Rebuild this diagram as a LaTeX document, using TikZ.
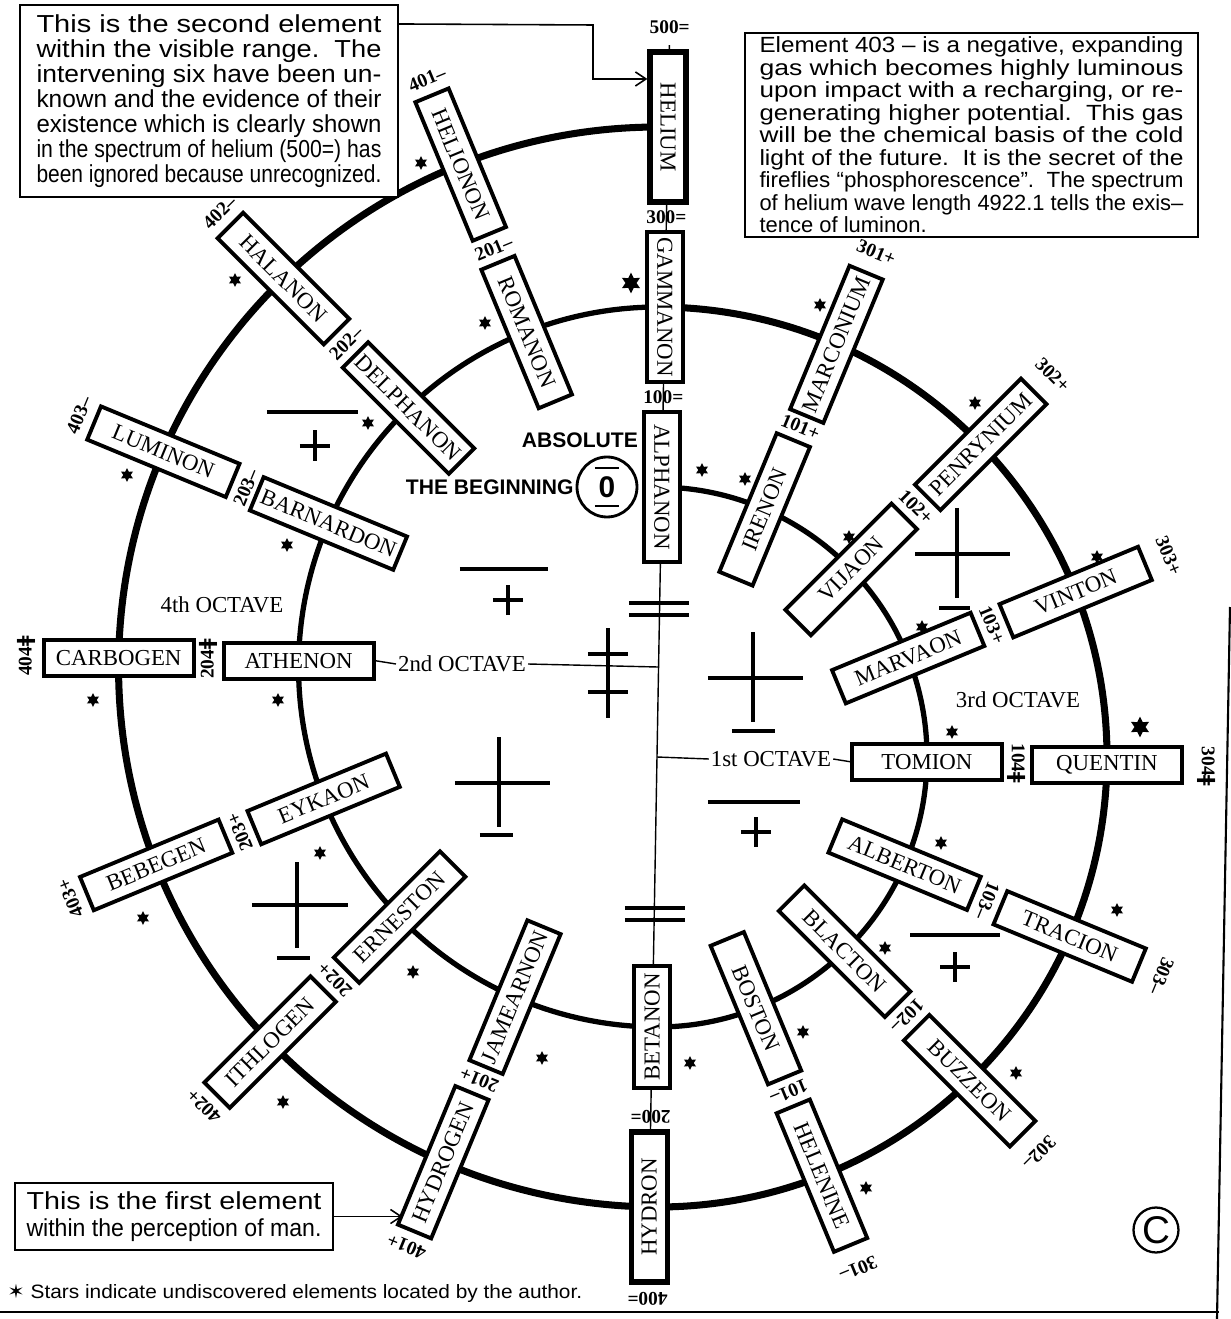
\documentclass[tikz,border=0pt]{standalone}
\usepackage{fontspec}
\setmainfont{Liberation Serif}
\setsansfont{Liberation Sans}
\newfontfamily\dagfont{DejaVu Sans}
\usepackage{graphicx}
\usepackage{tikz}
\usetikzlibrary{arrows.meta,positioning,shapes.geometric,calc}

\newcommand{\elemfont}{\fontsize{13}{13}\selectfont\rmfamily}
\newcommand{\numfont}{\fontsize{11}{11}\selectfont\rmfamily\bfseries}
\newcommand{\notefont}{\fontsize{14}{14.2}\selectfont\sffamily}
\newcommand{\dblbar}{{\dagfont ǂ}}
\newcommand{\fitline}[2]{\resizebox{#1}{\height}{#2}}

\begin{document}
\begin{tikzpicture}[
  x=0.02cm, y=0.02cm,
  >=Stealth,
  elembox/.style={
    draw,
    fill=white,
    line width=2.2pt,
    minimum width=3cm,
    minimum height=0.72cm,
    inner xsep=3pt,
    inner ysep=0pt,
    font=\elemfont
  },
  heavybox/.style={
    elembox,
    line width=3pt
  },
  numlabel/.style={
    font=\numfont,
    inner sep=0pt
  },
  octlabel/.style={
    font=\fontsize{13}{13}\selectfont\rmfamily,
    inner sep=1pt
  },
  originlabel/.style={
    font=\fontsize{12}{12}\selectfont\sffamily\bfseries,
    inner sep=1pt
  },
  notebox/.style={
    draw,
    fill=white,
    line width=1.2pt,
    align=center,
    font=\notefont,
    inner sep=2pt
  },
  spiralline/.style={line width=4pt},
  innerspiral/.style={line width=3pt},
  axisline/.style={line width=0.8pt},
  leaderline/.style={line width=0.8pt},
  signline/.style={line width=1.8pt},
  starmark/.style={
    star,
    star points=6,
    star point ratio=1.9,
    fill=black,
    draw=none,
    inner sep=0pt,
    minimum size=0.28cm
  },
  bigstar/.style={starmark, minimum size=0.42cm},
  pointer/.style={
    -{Straight Barb[length=6pt,width=8pt]},
    line width=0.9pt
  }
]

  \useasboundingbox (-657,-562) rectangle (574,757);

  % the wheel sits a little askew on the page
  \begin{scope}[rotate=-1]

  % ----------------------------------------------------
  % CENTRES OF THE HALF TURNS
  % ----------------------------------------------------
  \coordinate (R) at (0,0);
  \coordinate (L) at (0,90);
  \coordinate (axtop) at (0,712);
  \coordinate (axbot) at (0,-528);

  % axis through the poles
  \draw[axisline] (axtop) -- (axbot);

  % spiral: right half turns round R, left half turns round L
  \draw[innerspiral] ($(R)+(0,270)$) arc[start angle=90, end angle=-90, radius=270]
    arc[start angle=270, end angle=90, radius=360];
  \draw[spiralline] ($(R)+(0,450)$) arc[start angle=90, end angle=-90, radius=450]
    arc[start angle=270, end angle=90, radius=540];

  % ----------------------------------------------------
  % ELEMENT BOXES, LEFT HALF
  % ----------------------------------------------------
  \node[heavybox, rotate=-90] (helium) at ($(L)+(90:540)$) {HELIUM};
  \node[elembox, rotate=-90] (gammanon) at ($(L)+(90:360)$) {GAMMANON};
  \node[elembox, rotate=-67.5] (helionon) at ($(L)+(112.5:540)$) {HELIONON};
  \node[elembox, rotate=-67.5] (romanon) at ($(L)+(112.5:360)$) {ROMANON};
  \node[elembox, rotate=-45] (halanon) at ($(L)+(135:540)$) {HALANON};
  \node[elembox, rotate=-45] (delphanon) at ($(L)+(135:360)$) {DELPHANON};
  \node[elembox, rotate=-22.5] (luminon) at ($(L)+(157.5:540)$) {LUMINON};
  \node[elembox, rotate=-22.5] (barnardon) at ($(L)+(157.5:360)$) {BARNARDON};
  \node[elembox] (carbogen) at ($(L)+(180:540)$) {CARBOGEN};
  \node[elembox] (athenon) at ($(L)+(180:360)$) {ATHENON};
  \node[elembox, rotate=22.5] (bebegen) at ($(L)+(202.5:540)$) {BEBEGEN};
  \node[elembox, rotate=22.5] (eykaon) at ($(L)+(202.5:360)$) {EYKAON};
  \node[elembox, rotate=45] (ithlogen) at ($(L)+(225:540)$) {ITHLOGEN};
  \node[elembox, rotate=45] (erneston) at ($(L)+(225:360)$) {ERNESTON};
  \node[elembox, rotate=67.5] (hydrogen) at ($(L)+(247.5:540)$) {HYDROGEN};
  \node[elembox, rotate=67.5] (jamearnon) at ($(L)+(247.5:360)$) {JAMEARNON};
  \node[heavybox, rotate=90] (hydron) at ($(L)+(270:540)$) {HYDRON};
  \node[elembox, rotate=90, minimum width=2.45cm] (betanon) at ($(L)+(270:360)$) {BETANON};

  % ----------------------------------------------------
  % ELEMENT BOXES, RIGHT HALF
  % ----------------------------------------------------
  \node[elembox, rotate=-90] (alphanon) at ($(R)+(90:270)$) {ALPHANON};
  \node[elembox, rotate=67.5] (marconium) at ($(R)+(67.5:450)$) {MARCONIUM};
  \node[elembox, rotate=67.5] (irenon) at ($(R)+(67.5:270)$) {IRENON};
  \node[elembox, rotate=45] (penrynium) at ($(R)+(45:450)$) {PENRYNIUM};
  \node[elembox, rotate=45] (vijaon) at ($(R)+(45:270)$) {VIJAON};
  \node[elembox, rotate=22.5] (vinton) at ($(R)+(22.5:450)$) {VINTON};
  \node[elembox, rotate=22.5] (marvaon) at ($(R)+(22.5:270)$) {MARVAON};
  \node[elembox] (quentin) at ($(R)+(0:450)$) {QUENTIN};
  \node[elembox] (tomion) at ($(R)+(0:270)$) {TOMION};
  \node[elembox, rotate=-22.5] (tracion) at ($(R)+(-22.5:450)$) {TRACION};
  \node[elembox, rotate=-22.5] (alberton) at ($(R)+(-22.5:270)$) {ALBERTON};
  \node[elembox, rotate=-45] (buzzeon) at ($(R)+(-45:450)$) {BUZZEON};
  \node[elembox, rotate=-45] (blacton) at ($(R)+(-45:270)$) {BLACTON};
  \node[elembox, rotate=-67.5] (helenine) at ($(R)+(-67.5:450)$) {HELENINE};
  \node[elembox, rotate=-67.5] (boston) at ($(R)+(-67.5:270)$) {BOSTON};

  % ----------------------------------------------------
  % NUMBERS
  % ----------------------------------------------------
  \node[numlabel] (lab500) at ($(L)+(90:640)$) {500=};
  \node[numlabel] (lab300) at ($(L)+(90:450)$) {300=};
  \node[numlabel] (lab100) at ($(R)+(90:360)$) {100=};
  \node[numlabel, rotate=22.5] (lab401n) at ($(L)+(112.5:632)$) {401–};
  \node[numlabel, rotate=22.5] (lab201n) at ($(L)+(112.5:450)$) {201–};
  \node[numlabel, rotate=45] (lab402n) at ($(L)+(135:632)$) {402–};
  \node[numlabel, rotate=45] (lab202n) at ($(L)+(135:450)$) {202–};
  \node[numlabel, rotate=67.5] (lab403n) at ($(L)+(157.5:632)$) {403–};
  \node[numlabel, rotate=67.5] (lab203n) at ($(L)+(157.5:450)$) {203–};
  \node[numlabel, rotate=90] (lab404) at ($(L)+(180:632)$) {404\dblbar};
  \node[numlabel, rotate=90] (lab204) at ($(L)+(180:450)$) {204\dblbar};
  \node[numlabel, rotate=112.5] (lab403p) at ($(L)+(202.5:632)$) {403+};
  \node[numlabel, rotate=112.5] (lab203p) at ($(L)+(202.5:450)$) {203+};
  \node[numlabel, rotate=135] (lab402p) at ($(L)+(225:632)$) {402+};
  \node[numlabel, rotate=135] (lab202p) at ($(L)+(225:450)$) {202+};
  \node[numlabel, rotate=157.5] (lab401p) at ($(L)+(247.5:632)$) {401+};
  \node[numlabel, rotate=157.5] (lab201p) at ($(L)+(247.5:450)$) {201+};
  \node[numlabel, rotate=180] (lab400) at ($(L)+(270:632)$) {400=};
  \node[numlabel, rotate=180] (lab200) at ($(L)+(270:450)$) {200=};

  \node[numlabel, rotate=-22.5] (lab301p) at ($(R)+(67.5:550)$) {301+};
  \node[numlabel, rotate=-22.5] (lab101p) at ($(R)+(67.5:360)$) {101+};
  \node[numlabel, rotate=-45] (lab302p) at ($(R)+(45:550)$) {302+};
  \node[numlabel, rotate=-45] (lab102p) at ($(R)+(45:360)$) {102+};
  \node[numlabel, rotate=-67.5] (lab303p) at ($(R)+(22.5:550)$) {303+};
  \node[numlabel, rotate=-67.5] (lab103p) at ($(R)+(22.5:360)$) {103+};
  \node[numlabel, rotate=-90] (lab304) at ($(R)+(0:550)$) {304\dblbar};
  \node[numlabel, rotate=-90] (lab104) at ($(R)+(0:360)$) {104\dblbar};
  \node[numlabel, rotate=-112.5] (lab303n) at ($(R)+(-22.5:550)$) {303–};
  \node[numlabel, rotate=-112.5] (lab103n) at ($(R)+(-22.5:360)$) {103–};
  \node[numlabel, rotate=-135] (lab302n) at ($(R)+(-45:550)$) {302–};
  \node[numlabel, rotate=-135] (lab102n) at ($(R)+(-45:360)$) {102–};
  \node[numlabel, rotate=-157.5] (lab301n) at ($(R)+(-67.5:550)$) {301–};
  \node[numlabel, rotate=-157.5] (lab101n) at ($(R)+(-67.5:360)$) {101–};

  \end{scope}

  % ----------------------------------------------------
  % OCTAVES AND THE BEGINNING
  % ----------------------------------------------------
  \node[octlabel] (oct2) at (-195,93) {2nd OCTAVE};
  \draw[leaderline] (athenon.east) -- (oct2.west);
  \draw[leaderline] (oct2.east) -- (L);

  \node[octlabel] (oct1) at (114,-2) {1st OCTAVE};
  \draw[leaderline] (R) -- (oct1.west);
  \draw[leaderline] (oct1.east) -- (tomion.west);

  \node[octlabel] (oct3) at (361,57) {3rd OCTAVE};
  \node[octlabel] (oct4) at (-435,152) {4th OCTAVE};

  \node[circle, draw, line width=1.6pt, minimum size=1.2cm, inner sep=0pt,
    font=\fontsize{17}{17}\selectfont\sffamily\bfseries] (zero) at (-50,270) {0};
  \draw[line width=1.4pt] ($(zero.center)+(-12,19)$) -- ($(zero.center)+(12,19)$);
  \draw[line width=1.4pt] ($(zero.center)+(-12,-19)$) -- ($(zero.center)+(12,-19)$);
  \node[originlabel, anchor=east] (beginning) at (zero.west) {THE BEGINNING};
  \node[originlabel, anchor=east] (absolute) at (-17,317) {ABSOLUTE};

  % ----------------------------------------------------
  % SIGNS IN THE SECTORS
  % ----------------------------------------------------
  \draw[signline] (-390,345) -- (-299,345);
  \draw[signline] (-357,311) -- (-327,311) (-342,296) -- (-342,327);

  \draw[signline] (-197,188) -- (-109,188);
  \draw[signline] (-164,157) -- (-134,157) (-149,142) -- (-149,172);

  \draw[signline] (-28,154) -- (32,154) (-28,142) -- (32,142);

  \draw[signline] (-49,129) -- (-49,39);
  \draw[signline] (-69,103) -- (-29,103) (-69,65) -- (-29,65);

  \draw[signline] (96,125) -- (96,35) (51,79) -- (146,79);
  \draw[signline] (75,26) -- (118,26);

  \draw[signline] (-158,20) -- (-158,-70) (-202,-26) -- (-107,-26);
  \draw[signline] (-177,-78) -- (-144,-78);

  \draw[signline] (51,-45) -- (143,-45);
  \draw[signline] (84,-75) -- (114,-75) (99,-60) -- (99,-90);

  \draw[signline] (300,249) -- (300,159) (258,203) -- (353,203);
  \draw[signline] (282,149) -- (313,149);

  \draw[signline] (-360,-105) -- (-360,-191) (-405,-148) -- (-309,-148);
  \draw[signline] (-380,-201) -- (-347,-201);

  \draw[signline] (253,-178) -- (343,-178);
  \draw[signline] (283,-210) -- (313,-210) (298,-195) -- (298,-225);

  \draw[signline] (-32,-151) -- (28,-151) (-32,-163) -- (28,-163);

  % ----------------------------------------------------
  % STARS (UNDISCOVERED ELEMENTS)
  % ----------------------------------------------------
  \node[starmark] (st1) at (-236,594) {};
  \node[starmark] (st2) at (-172,434) {};
  \node[bigstar] (st3) at (-26,474) {};
  \node[starmark] (st4) at (-422,477) {};
  \node[starmark] (st5) at (-289,334) {};
  \node[starmark] (st6) at (-530,282) {};
  \node[starmark] (st7) at (-370,212) {};
  \node[starmark] (st8) at (-564,57) {};
  \node[starmark] (st9) at (-379,57) {};
  \node[starmark] (st10) at (-337,-96) {};
  \node[starmark] (st11) at (-514,-161) {};
  \node[starmark] (st12) at (-374,-345) {};
  \node[starmark] (st13) at (-244,-215) {};
  \node[starmark] (st14) at (-115,-301) {};
  \node[starmark] (st15) at (45,287) {};
  \node[starmark] (st16) at (88,278) {};
  \node[starmark] (st17) at (163,452) {};
  \node[starmark] (st18) at (318,354) {};
  \node[starmark] (st19) at (192,220) {};
  \node[starmark] (st20) at (440,200) {};
  \node[starmark] (st21) at (265,130) {};
  \node[starmark] (st22) at (295,25) {};
  \node[bigstar] (st23) at (483,30) {};
  \node[starmark] (st24) at (284,-86) {};
  \node[starmark] (st25) at (460,-153) {};
  \node[starmark] (st26) at (228,-191) {};
  \node[starmark] (st27) at (146,-275) {};
  \node[starmark] (st28) at (33,-306) {};
  \node[starmark] (st29) at (359,-316) {};
  \node[starmark] (st30) at (209,-431) {};

  % ----------------------------------------------------
  % NOTES
  % ----------------------------------------------------
  \node[notebox, minimum width=7.56cm, minimum height=3.84cm] (secondnote) at (-448,656) {
    \fitline{6.9cm}{This is the second element}\\
    \fitline{6.9cm}{within the visible range.\ \ The}\\
    \fitline{6.9cm}{intervening six have been un-}\\
    \fitline{6.9cm}{known and the evidence of their}\\
    \fitline{6.9cm}{existence which is clearly shown}\\
    \fitline{6.9cm}{in the spectrum of helium (500=) has}\\
    \fitline{6.9cm}{been ignored because unrecognized.}
  };
  \coordinate (hetarget) at ($(helium.south west)!0.19!(helium.south east)$);
  \coordinate (bend) at (-64,732);
  \draw[pointer] ($(secondnote.north east)+(0,-20)$) -- (bend) |- (hetarget);

  \node[notebox, minimum width=9.06cm, minimum height=4.08cm, align=left,
    font=\fontsize{12.5}{12.8}\selectfont\sffamily] (luminote) at (314.5,622) {
    \fitline{8.48cm}{Element 403 – is a negative, expanding}\\
    \fitline{8.48cm}{gas which becomes highly luminous}\\
    \fitline{8.48cm}{upon impact with a recharging, or re-}\\
    \fitline{8.48cm}{generating higher potential.\ \ This gas}\\
    \fitline{8.48cm}{will be the chemical basis of the cold}\\
    \fitline{8.48cm}{light of the future.\ \ It is the secret of the}\\
    \fitline{8.48cm}{fireflies “phosphorescence”.\ \ The spectrum}\\
    \fitline{8.48cm}{of helium wave length 4922.1 tells the exis–}\\
    tence of luminon.
  };

  \node[notebox, minimum width=6.36cm, minimum height=1.34cm,
    font=\fontsize{14}{15.3}\selectfont\sffamily] (firstnote) at (-483,-459.5) {
    \fitline{5.9cm}{This is the first element}\\
    \fitline{5.9cm}{within the perception of man.}
  };
  \coordinate (hydtarget) at ($(hydrogen.north west)!0.12!(hydrogen.north east)$);
  \draw[pointer] (firstnote.east) -- (firstnote.east -| hydtarget);

  \node[anchor=west, inner sep=0pt, font=\fontsize{11}{11}\selectfont\sffamily] (starnote) at (-650,-536)
    {\fitline{11.5cm}{{\dagfont ✶} Stars indicate undiscovered elements located by the author.}};

  \node[circle, draw, line width=1.3pt, minimum size=0.9cm, inner sep=0pt,
    font=\fontsize{22}{22}\selectfont\sffamily] (copyr) at (499,-473) {C};

  % page edges
  \draw[line width=1.2pt] (-657,-555) -- (562,-555);
  \draw[line width=1.2pt] (573,150) -- (560,-562);

\end{tikzpicture}
\end{document}
